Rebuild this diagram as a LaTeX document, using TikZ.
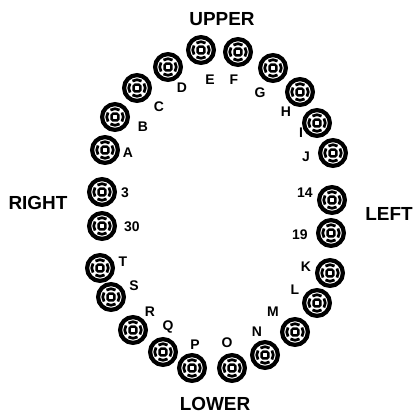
\documentclass[tikz,border=0pt]{standalone}
\usepackage{fontspec}
\setmainfont{Liberation Sans}
\begin{document}
\begin{tikzpicture}[x=1bp,y=-1bp,
  tooth/.style={circle, draw, line width=4.2bp, minimum size=25.8bp, inner sep=0pt,
    path picture={
      \coordinate (pc) at (path picture bounding box.center);
      \foreach \a in {0,90,180,270}{
        \draw[line width=2.7bp] (pc) ++(\a-33:8.3bp) arc[start angle=\a-33, end angle=\a+33, radius=8.3bp];
      }
      \draw[line width=2.4bp, rounded corners=1.5bp] (pc) ++(-3.4bp,-3.4bp) rectangle ++(6.8bp,6.8bp);
    }},
  lbl/.style={font=\fontsize{14}{14}\selectfont\bfseries, inner sep=0pt},
  side/.style={font=\fontsize{19}{19}\selectfont\bfseries, inner sep=0pt}]
\useasboundingbox[fill=white] (0,0) rectangle (416,416);
% teeth
\foreach \n/\x/\y in {E/201/50, F/238/52, D/168/67, G/273/68, C/137/88, H/300/92,
  B/115/117, I/317/123, A/105/150, J/333/153, 3/102/192, 14/332/200,
  30/102/226, 19/331/233, T/100/268, K/330/273, S/111/297, L/317/303,
  R/133/330, M/295/332, Q/163/352, N/265/355, P/192/368, O/232/368}{
  \node[tooth] (t\n) at (\x,\y) {};
}
% tooth labels
\foreach \n/\x/\y in {E/210/80, F/234/80, D/182/88, G/260/93, C/159/107, H/286/112,
  B/143/127, I/301/133, A/128/153, J/306/157, 3/125/193, 14/305/193,
  30/132/227, 19/300/235, T/123/262, K/306/267, S/134/286, L/295/290,
  R/150/312, M/273/312, Q/168/327, N/257/332, P/195/345, O/227/343}{
  \node[lbl] (l\n) at (\x,\y) {\n};
}
% side labels
\node[side] (upper) at (222,19) {UPPER};
\node[side] (lower) at (215,404) {LOWER};
\node[side] (right) at (38,203) {RIGHT};
\node[side] (left) at (389,214) {LEFT};
\end{tikzpicture}
\end{document}
